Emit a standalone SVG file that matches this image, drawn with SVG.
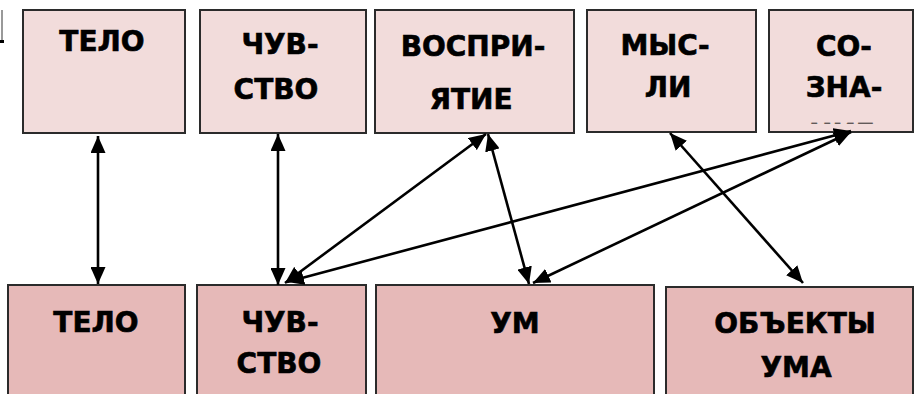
<svg xmlns="http://www.w3.org/2000/svg" width="915" height="394" viewBox="0 0 915 394">
<style>
.top{fill:#f2dcdb;stroke:#2b2b2b;stroke-width:2}
.bot{fill:#e6b9b8;stroke:#2b2b2b;stroke-width:2}
.t{font-family:"DejaVu Sans","Liberation Sans",sans-serif;font-weight:bold;font-size:28px;fill:#000;stroke:#000;stroke-width:0.6;text-anchor:middle}
.c{stroke:#000;stroke-width:2.6;fill:none;marker-start:url(#ah);marker-end:url(#ah)}
</style>
<defs>
<marker id="ah" markerUnits="userSpaceOnUse" markerWidth="17" markerHeight="15" refX="17" refY="7.5" orient="auto-start-reverse" viewBox="0 0 17 15">
<path d="M0,0 L17,7.5 L0,15 z" fill="#000"/>
</marker>
<clipPath id="clip5"><rect x="770" y="11" width="142" height="112.5"/></clipPath>
</defs>
<rect width="915" height="394" fill="#fff"/>
<g id="fragment">
<line x1="2" y1="10" x2="2" y2="40" stroke="#999" stroke-width="2"/>
<rect x="0" y="40" width="4" height="3" fill="#000"/>
</g>
<g id="top-telo">
<rect class="top" x="23" y="10" width="162" height="123"/>
<text class="t" x="102" y="51">ТЕЛО</text>
</g>
<g id="top-chuvstvo">
<rect class="top" x="200" y="10" width="166" height="123"/>
<text class="t" x="280" y="54">ЧУВ-</text>
<text class="t" x="276" y="99">СТВО</text>
</g>
<g id="top-vospriyatie">
<rect class="top" x="375" y="10" width="199" height="123"/>
<text class="t" x="473" y="56">ВОСПРИ-</text>
<text class="t" x="471" y="109">ЯТИЕ</text>
</g>
<g id="top-mysli">
<rect class="top" x="587" y="10" width="169" height="122"/>
<text class="t" x="665" y="55">МЫС-</text>
<text class="t" x="668" y="97">ЛИ</text>
</g>
<g id="top-soznanie">
<rect class="top" x="769" y="10" width="144" height="122"/>
<text class="t" x="844" y="56">СО-</text>
<text class="t" x="844" y="97">ЗНА-</text>
<text class="t" x="842" y="144" clip-path="url(#clip5)">НИЕ</text>
</g>
<g id="bot-telo">
<rect class="bot" x="8" y="285" width="177" height="120"/>
<text class="t" x="96" y="332">ТЕЛО</text>
</g>
<g id="bot-chuvstvo">
<rect class="bot" x="197" y="285" width="169" height="120"/>
<text class="t" x="280" y="332">ЧУВ-</text>
<text class="t" x="279" y="373">СТВО</text>
</g>
<g id="bot-um">
<rect class="bot" x="376" y="285" width="278" height="120"/>
<text class="t" x="515" y="333">УМ</text>
</g>
<g id="bot-obekty">
<rect class="bot" x="666" y="287" width="247" height="120"/>
<text class="t" x="795" y="333">ОБЪЕКТЫ</text>
<text class="t" x="796" y="377">УМА</text>
</g>
<g id="connectors">
<line class="c" x1="98" y1="136" x2="98" y2="284"/>
<line class="c" x1="278" y1="134" x2="278" y2="285"/>
<line class="c" x1="285" y1="283" x2="486" y2="134"/>
<line class="c" x1="488" y1="134" x2="529" y2="284"/>
<line class="c" x1="287" y1="282" x2="851" y2="131"/>
<line class="c" x1="533" y1="283" x2="851" y2="132"/>
<line class="c" x1="670" y1="133" x2="803" y2="283"/>
</g>
</svg>
